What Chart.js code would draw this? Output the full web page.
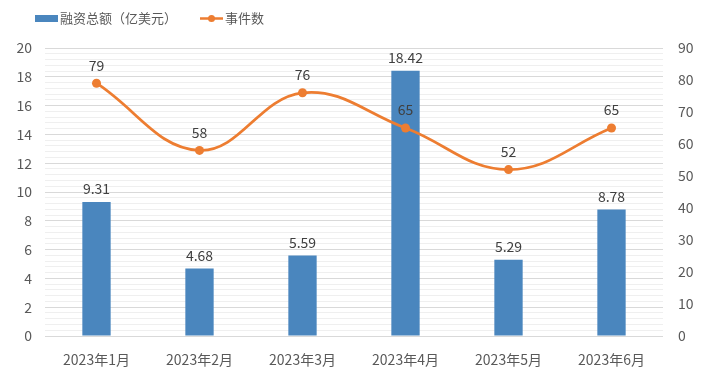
<!DOCTYPE html>
<html>
<head>
<meta charset="utf-8">
<script src="https://cdn.jsdelivr.net/npm/chart.js@4/dist/chart.umd.min.js"></script>
<style>
  html, body { margin: 0; padding: 0; background: #fff; }
  #wrap { width: 714px; height: 387px; }
</style>
</head>
<body>
<div id="wrap"><canvas id="c" width="714" height="387"></canvas></div>
<script>
  // ===== Dados =====
  const months  = ['2023年1月', '2023年2月', '2023年3月', '2023年4月', '2023年5月', '2023年6月'];
  const funding = [9.31, 4.68, 5.59, 18.42, 5.29, 8.78];   // 亿美元
  const events  = [79, 58, 76, 65, 52, 65];
  const leftTicks  = [0, 2, 4, 6, 8, 10, 12, 14, 16, 18, 20];
  const rightTicks = [0, 10, 20, 30, 40, 50, 60, 70, 80, 90];

  const FONT = '"Noto Sans CJK SC", "Microsoft YaHei", sans-serif';
  const BLUE = '#4A86BE', ORANGE = '#ED7D31';
  const TXT = '#595959', LBL = '#404040';

  // rótulos de dados + legenda desenhados à mão
  const labelsPlugin = {
    id: 'labels',
    afterDatasetsDraw(chart) {
      const ctx = chart.ctx;
      ctx.save();
      ctx.font = '14px ' + FONT;
      ctx.fillStyle = LBL;
      ctx.textAlign = 'center';
      ctx.textBaseline = 'bottom';
      chart.getDatasetMeta(0).data.forEach((el, i) => {
        ctx.fillText(funding[i].toFixed(2), el.x, el.y - 6);
      });
      chart.getDatasetMeta(1).data.forEach((el, i) => {
        ctx.fillText(String(events[i]), el.x, el.y - 11);
      });

      // legenda
      ctx.textBaseline = 'middle';
      ctx.textAlign = 'left';
      ctx.font = '13px ' + FONT;
      ctx.fillStyle = BLUE;
      ctx.fillRect(35, 15, 23, 7);
      ctx.fillStyle = TXT;
      ctx.fillText('融资总额（亿美元）', 60, 18.5);
      ctx.strokeStyle = ORANGE;
      ctx.lineWidth = 2.5;
      ctx.beginPath(); ctx.moveTo(200, 18.5); ctx.lineTo(223, 18.5); ctx.stroke();
      ctx.fillStyle = ORANGE;
      ctx.beginPath(); ctx.arc(211.5, 18.5, 3.5, 0, Math.PI * 2); ctx.fill();
      ctx.fillStyle = TXT;
      ctx.fillText('事件数', 225, 18.5);
      ctx.restore();
    }
  };

  new Chart(document.getElementById('c'), {
    data: {
      labels: months,
      datasets: [
        {
          type: 'bar', label: '融资总额（亿美元）', data: funding, yAxisID: 'y',
          backgroundColor: BLUE, barPercentage: 0.55, categoryPercentage: 0.5, order: 2
        },
        {
          type: 'line', label: '事件数', data: events, yAxisID: 'y1',
          borderColor: ORANGE, backgroundColor: ORANGE, borderWidth: 2.75,
          pointRadius: 4.5, pointBorderWidth: 0, pointHoverRadius: 4.5,
          tension: 0.4, order: 1
        }
      ]
    },
    options: {
      responsive: false,
      animation: false,
      layout: { padding: { top: 48, bottom: 0, left: 0, right: 0 } },
      plugins: { legend: { display: false }, tooltip: { enabled: false } },
      scales: {
        x: {
          grid: { display: false },
          border: { display: false },
          ticks: { color: TXT, font: { family: FONT, size: 14 }, padding: 7 },
          afterFit: s => { s.height = 51; }
        },
        y: {
          position: 'left', min: 0, max: 20,
          afterBuildTicks: s => {
            const t = [];
            for (let k = 0; k <= 50; k++) t.push({ value: k * 0.4 });
            s.ticks = t;
          },
          ticks: {
            color: TXT, font: { family: FONT, size: 14 }, padding: 13,
            autoSkip: false,
            callback: v => {
              const r = Math.round(v * 10) / 10;
              return leftTicks.includes(r) ? String(r) : '';
            }
          },
          grid: {
            drawTicks: false,
            color: c => {
              const r = Math.round(c.tick.value * 10) / 10;
              return leftTicks.includes(r) ? '#D9D9D9' : '#EFEFEF';
            }
          },
          border: { display: false },
          afterFit: s => { s.width = 45; }
        },
        y1: {
          position: 'right', min: 0, max: 90,
          afterBuildTicks: s => { s.ticks = rightTicks.map(v => ({ value: v })); },
          ticks: { color: TXT, font: { family: FONT, size: 14 }, padding: 15 },
          grid: { display: false, drawTicks: false },
          border: { display: false },
          afterFit: s => { s.width = 51; }
        }
      }
    },
    plugins: [labelsPlugin]
  });
</script>
</body>
</html>
